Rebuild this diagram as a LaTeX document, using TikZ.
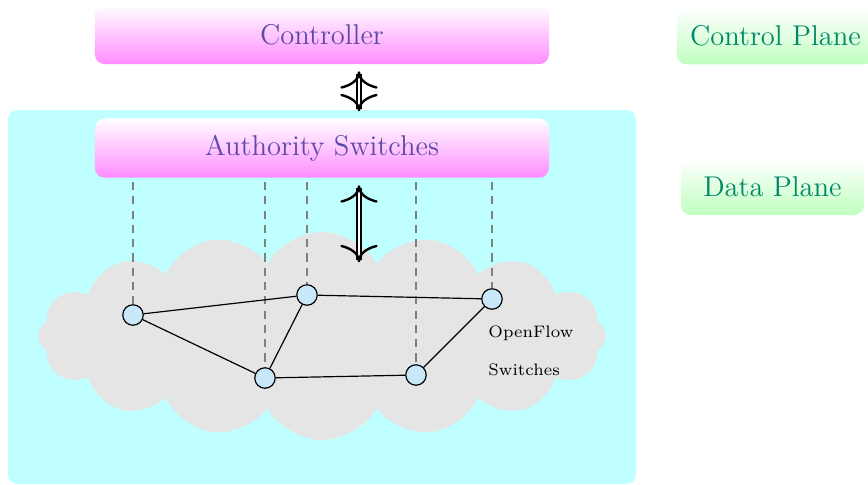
\documentclass[tikz,border=0pt]{standalone}
\usetikzlibrary{shapes.symbols,calc}
\definecolor{boxtext}{RGB}{92,74,166}
\definecolor{planetext}{RGB}{0,135,105}
\definecolor{swfill}{RGB}{200,232,250}
\definecolor{dataplanebg}{RGB}{191,255,255}
\definecolor{cloudgray}{RGB}{229,229,229}
\newcommand\ImplHead[2]{%
  \draw[wing] ($(#1)+(-17.5,15*#2)$) .. controls ($(#1)+(-9,13*#2)$) and ($(#1)+(-0.3,8*#2)$) .. (#1);
  \draw[wing] (#1) .. controls ($(#1)+(0.3,8*#2)$) and ($(#1)+(9,13*#2)$) .. ($(#1)+(17.5,15*#2)$);}
\begin{document}
\begin{tikzpicture}[x=0.42pt,y=-0.42pt,
  pinkbox/.style={rectangle, rounded corners=4pt, top color=white, bottom color=magenta!45, draw=none,
    minimum width=190.7pt, minimum height=24.8pt, text=boxtext, font=\large},
  planebox/.style={rectangle, rounded corners=4pt, top color=white, bottom color=green!25, draw=none,
    inner xsep=5.6pt, minimum width=76.9pt, minimum height=23.8pt, text=planetext, font=\large},
  sw/.style={circle, draw=black, fill=swfill, minimum size=8.6pt, inner sep=0pt, line width=0.5pt},
  link/.style={draw=black, line width=0.5pt},
  drop/.style={draw=gray, line width=0.75pt, dash pattern=on 3.4pt off 2.6pt},
  shaft/.style={double, double distance=1pt, line width=0.75pt},
  wing/.style={line width=1pt, line cap=round, line join=round}
]
\useasboundingbox (0,0) rectangle (868,485);
\fill[dataplanebg, rounded corners=4pt] (8,110) rectangle (636,484);
\node[cloud, cloud puffs=16, cloud puff arc=120, cloud ignores aspect, fill=cloudgray, draw=none,
  minimum width=238.6pt, minimum height=87.4pt] (cloud) at (322,336) {};
\node[pinkbox] (ctrl) at (322,34.5) {Controller};
\node[pinkbox] (auth) at (322,148) {Authority Switches};
\node[planebox] (cp) at (775.5,36) {Control Plane};
\node[planebox] (dp) at (772.5,186.5) {Data Plane};
\coordinate (a1) at (359,72.5);
\coordinate (a2) at (359,110);
\coordinate (b1) at (359,186.5);
\coordinate (b2) at (359,261);
\draw[shaft] ($(a1)+(0,1.5)$) -- ($(a2)+(0,-1.5)$);
\draw[shaft] ($(b1)+(0,1.5)$) -- ($(b2)+(0,-1.5)$);
\ImplHead{a1}{1}
\ImplHead{a2}{-1}
\ImplHead{b1}{1}
\ImplHead{b2}{-1}
\node[sw] (s1) at (133,315) {};
\node[sw] (s2) at (307,295) {};
\node[sw] (s3) at (492,299) {};
\node[sw] (s4) at (265,378) {};
\node[sw] (s5) at (416,375) {};
\foreach \s in {s1,s4,s2,s5,s3}{
  \draw[drop] (auth.south -| \s) ++(0,4) -- (\s.north);
}
\draw[link] (s1) -- (s2);
\draw[link] (s2) -- (s3);
\draw[link] (s1) -- (s4);
\draw[link] (s4) -- (s2);
\draw[link] (s4) -- (s5);
\draw[link] (s5) -- (s3);
\node[anchor=west, font=\scriptsize, inner sep=0pt] (of1) at (488,333) {OpenFlow};
\node[anchor=west, font=\scriptsize, inner sep=0pt] (of2) at (488,370) {Switches};
\end{tikzpicture}
\end{document}
